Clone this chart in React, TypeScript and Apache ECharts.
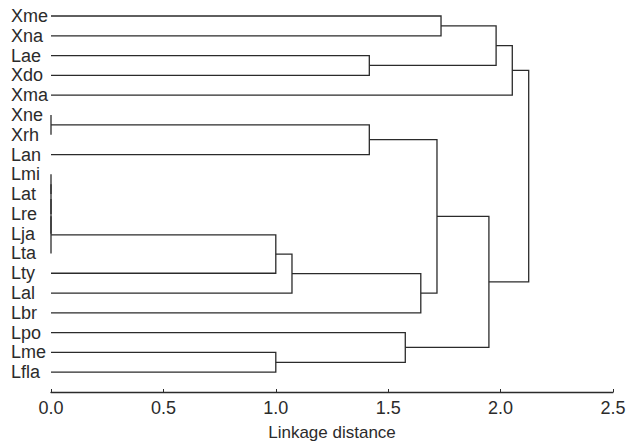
import React, { useEffect, useRef } from "react";
import * as echarts from "echarts";

// Leaves, top to bottom
const leafNames = [
  "Xme", "Xna", "Lae", "Xdo", "Xma", "Xne", "Xrh", "Lan", "Lmi", "Lat",
  "Lre", "Lja", "Lta", "Lty", "Lal", "Lbr", "Lpo", "Lme", "Lfla",
];

// Linkage: ids 0..18 are leaves, merge k creates cluster id 19 + k
const mergeLeft = [5, 8, 20, 21, 22, 17, 23, 25, 2, 19, 16, 26, 28, 0, 31, 32, 34, 35];
const mergeRight = [6, 9, 10, 11, 12, 18, 13, 14, 3, 7, 24, 15, 30, 1, 29, 27, 4, 33];
const mergeHeight = [0, 0, 0, 0, 0, 1.0, 1.0, 1.072, 1.416, 1.416, 1.576, 1.645, 1.717, 1.735, 1.948, 1.98, 2.052, 2.125];

const xTicks = [0, 0.5, 1.0, 1.5, 2.0, 2.5];

function buildSegments() {
  const pos: number[] = leafNames.map((_, i) => i);
  const hgt: number[] = leafNames.map(() => 0);
  const out: number[][] = [];
  for (let k = 0; k < mergeLeft.length; k++) {
    const a = mergeLeft[k];
    const b = mergeRight[k];
    const h = mergeHeight[k];
    out.push([hgt[a], pos[a], hgt[b], pos[b], h]);
    pos.push((pos[a] + pos[b]) / 2);
    hgt.push(h);
  }
  return out;
}

export default function App() {
  const ref = useRef<HTMLDivElement>(null);
  useEffect(() => {
    if (!ref.current) return;
    const chart = echarts.init(ref.current, undefined, { renderer: "svg" });
    const font = "Liberation Sans, Arial, Helvetica, sans-serif";
    const ink = "#2b2b2b";
    chart.setOption({
      animation: false,
      backgroundColor: "#ffffff",
      grid: {
        left: 51,
        right: 14,
        top: 16,
        bottom: 53,
        containLabel: false,
        outerBoundsMode: "none",
      },
      xAxis: {
        type: "value",
        min: 0,
        max: 2.5,
        interval: 0.5,
        name: "Linkage distance",
        nameLocation: "middle",
        nameGap: 32,
        nameTextStyle: { color: ink, fontSize: 17, fontFamily: font },
        axisLine: { show: true, onZero: false, lineStyle: { color: ink, width: 1.3 } },
        axisTick: { show: true, inside: true, length: 3, lineStyle: { color: ink } },
        axisLabel: {
          color: ink,
          fontSize: 18,
          fontFamily: font,
          margin: 7,
          formatter: (v: number) => {
            const t = xTicks.find((x) => Math.abs(x - v) < 1e-9);
            return t === undefined ? "" : t.toFixed(1);
          },
        },
        splitLine: { show: false },
      },
      yAxis: {
        type: "value",
        min: 0,
        max: 19,
        interval: 1,
        inverse: true,
        axisLine: { show: false },
        axisTick: { show: false },
        splitLine: { show: false },
        axisLabel: {
          color: ink,
          fontSize: 18,
          fontFamily: font,
          align: "left",
          margin: 40,
          formatter: (v: number) => leafNames[Math.round(v)] ?? "",
        },
      },
      series: [
        {
          type: "custom",
          data: buildSegments(),
          encode: { x: [0, 2, 4], y: [1, 3] },
          renderItem: (_params: any, api: any) => {
            const hA = api.value(0);
            const yA = api.value(1);
            const hB = api.value(2);
            const yB = api.value(3);
            const h = api.value(4);
            const pts = [
              api.coord([hA, yA]),
              api.coord([h, yA]),
              api.coord([h, yB]),
              api.coord([hB, yB]),
            ];
            return {
              type: "polyline",
              shape: { points: pts },
              style: { stroke: ink, lineWidth: 1.3, fill: "none" },
            };
          },
        },
      ],
    });
    return () => chart.dispose();
  }, []);
  return (
    <div
      ref={ref}
      style={{ position: "fixed", left: 0, top: 0, width: 627, height: 445, background: "#fff" }}
    />
  );
}
